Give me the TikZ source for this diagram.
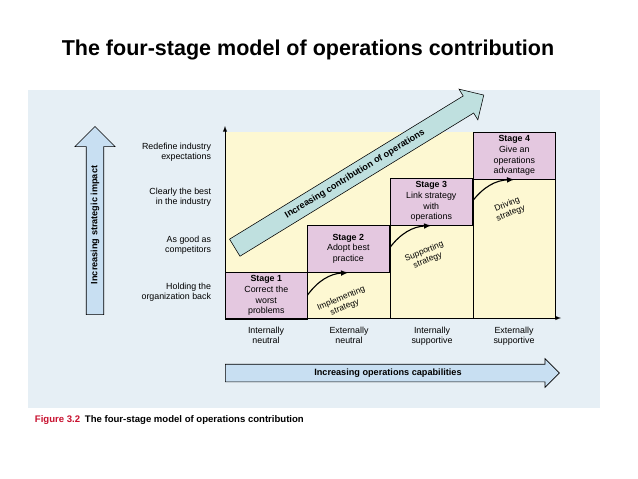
\documentclass[tikz,border=0pt]{standalone}
\usepackage{fontspec}
\setmainfont{Liberation Sans}
\usetikzlibrary{shapes.arrows,positioning}
\definecolor{panel}{HTML}{E6EFF5}
\definecolor{cream}{HTML}{FDF8D2}
\definecolor{stagepink}{HTML}{E4C8E0}
\definecolor{teal}{HTML}{BFE0DF}
\definecolor{skyblue}{HTML}{C8DFF2}
\definecolor{figred}{HTML}{C8102E}
\tikzset{
  lbl/.style={font=\fontsize{6.3}{7.4}\selectfont, align=right, anchor=east},
  collbl/.style={font=\fontsize{6.3}{7.4}\selectfont, align=center, anchor=north},
  stagebox/.style={draw, fill=stagepink, minimum width=2.05cm, minimum height=1.175cm, inner sep=1pt, align=center, font=\fontsize{6.3}{7.6}\selectfont},
  bigarrow/.style={draw, single arrow, single arrow head extend=6pt, inner sep=3pt, font=\bfseries\fontsize{6.5}{7}\selectfont},
  stepcurve/.style={-latex, thick},
  steplbl/.style={font=\fontsize{6}{6.8}\selectfont, align=center}
}
\begin{document}
\begin{tikzpicture}[x=0.025cm,y=-0.025cm]
\useasboundingbox (0,0) rectangle (638,479);
\fill[white] (0,0) rectangle (638,479);
\node (title) at (308,50) {\bfseries\fontsize{15.3}{17}\selectfont The four-stage model of operations contribution};
\fill[panel] (28,90) rectangle (600,408);
%% Plot area
\fill[cream] (225,132) rectangle (555,318);
\draw (307,318) -- (307,225) (390,318) -- (390,178) (473,318) -- (473,132) -- (555,132) -- (555,318);
\node[stagebox, anchor=north west] (s1) at (225,272) {\textbf{Stage 1}\\Correct the\\worst\\problems};
\node[stagebox, anchor=north west] (s2) at (307,225) {\textbf{Stage 2}\\Adopt best\\practice};
\node[stagebox, anchor=north west] (s3) at (390,178) {\textbf{Stage 3}\\Link strategy\\with\\operations};
\node[stagebox, anchor=north west] (s4) at (473,132) {\textbf{Stage 4}\\Give an\\operations\\advantage};
\coordinate (o) at (225,318);
\coordinate (ytop) at (225,126);
\coordinate (xend) at (561,318);
\draw[-latex] (o) -- (ytop);
\draw[-latex] (o) -- (xend);
%% Diagonal arrow
\node[bigarrow, fill=teal, rotate=31.5, minimum height=7.3cm, minimum width=0.9cm, single arrow head extend=5pt] (contrib) at (355,174) {Increasing contribution of operations};
%% Step arrows
\draw[stepcurve] (s1.east |- 0,295) to[bend left=25] (s2.south);
\draw[stepcurve] (s2.east |- 0,248) to[bend left=25] (s3.south);
\draw[stepcurve] (s3.east |- 0,201) to[bend left=25] (s4.south);
\node[steplbl, rotate=22] (l1) at (343,303) {Implementing\\strategy};
\node[steplbl, rotate=22] (l2) at (426,256) {Supporting\\strategy};
\node[steplbl, rotate=22] (l3) at (509,209) {Driving\\strategy};
%% Left labels
\node[lbl] (r4) at (216,152) {Redefine industry\\expectations};
\node[lbl] (r3) at (216,197) {Clearly the best\\in the industry};
\node[lbl] (r2) at (216,245) {As good as\\competitors};
\node[lbl] (r1) at (216,292) {Holding the\\organization back};
\node[bigarrow, fill=skyblue, rotate=90, minimum height=4.7cm, minimum width=0.75cm, single arrow head extend=8pt] (impact) at (95,225) {Increasing strategic impact};
%% Column labels
\node[collbl] (c1) at (266,322) {Internally\\neutral};
\node[collbl] (c2) at (349,322) {Externally\\neutral};
\node[collbl] (c3) at (432,322) {Internally\\supportive};
\node[collbl] (c4) at (514,322) {Externally\\supportive};
\node[bigarrow, fill=skyblue, minimum height=8.35cm, minimum width=0.62cm, single arrow head extend=4pt, anchor=west] (capab) at (225,373) {Increasing operations capabilities};
\node[anchor=west, font=\bfseries\fontsize{6.8}{8}\selectfont] (cap) at (30,420) {\textcolor{figred}{Figure 3.2}\enspace The four-stage model of operations contribution};
\end{tikzpicture}
\end{document}
